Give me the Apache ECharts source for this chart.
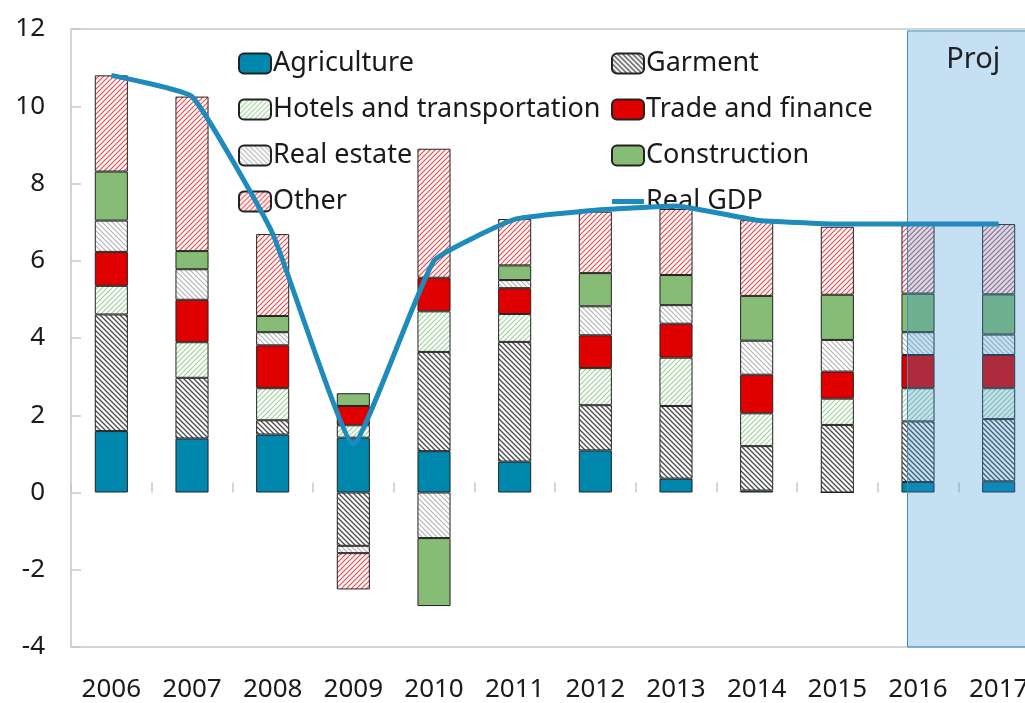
<!DOCTYPE html>
<html>
<head>
<meta charset="utf-8">
<style>
  html, body { margin: 0; padding: 0; background: #fff; }
  #chart { width: 1025px; height: 703px; }
</style>
<script src="https://cdn.jsdelivr.net/npm/echarts@6/dist/echarts.min.js"></script>
</head>
<body>
<div id="chart"></div>
<script>
// 数据
var years = ['2006', '2007', '2008', '2009', '2010', '2011', '2012', '2013', '2014', '2015', '2016', '2017'];
var agriculture  = [1.59, 1.40, 1.50, 1.42, 1.07, 0.80, 1.09, 0.36, 0.05, 0.00, 0.27, 0.29];
var garment      = [3.02, 1.57, 0.37, -1.38, 2.57, 3.10, 1.17, 1.88, 1.15, 1.75, 1.57, 1.61];
var hotels       = [0.74, 0.92, 0.83, 0.32, 1.05, 0.72, 0.96, 1.25, 0.85, 0.68, 0.86, 0.80];
var trade        = [0.88, 1.10, 1.11, 0.50, 0.87, 0.67, 0.85, 0.88, 1.00, 0.70, 0.86, 0.86];
var realEstate   = [0.81, 0.79, 0.34, -0.19, -1.18, 0.21, 0.75, 0.48, 0.88, 0.82, 0.59, 0.53];
var construction = [1.27, 0.47, 0.42, 0.33, -1.76, 0.38, 0.86, 0.78, 1.16, 1.17, 1.00, 1.04];
var other        = [2.49, 4.00, 2.12, -0.94, 3.34, 1.20, 1.59, 1.71, 1.96, 1.76, 1.78, 1.82];
var realGdp      = [10.8, 10.25, 6.7, 1.25, 6.0, 7.07, 7.31, 7.42, 7.05, 6.95, 6.95, 6.95];
var projFrom = 9.87; // 预测区开始位置(类目下标)

(function() {
    var myChart = echarts.init(document.getElementById('chart'));
    var font = '"Noto Sans", "Open Sans", sans-serif';

    // 斜线填充
    function hatch(stroke, dir, lw) {
        var s = 5;
        var c = document.createElement('canvas');
        c.width = s; c.height = s;
        var ctx = c.getContext('2d');
        ctx.fillStyle = '#fff';
        ctx.fillRect(0, 0, s, s);
        ctx.strokeStyle = stroke;
        ctx.lineWidth = lw;
        ctx.beginPath();
        if (dir === '/') {
            ctx.moveTo(0, s); ctx.lineTo(s, 0);
            ctx.moveTo(-1, 1); ctx.lineTo(1, -1);
            ctx.moveTo(s - 1, s + 1); ctx.lineTo(s + 1, s - 1);
        } else {
            ctx.moveTo(0, 0); ctx.lineTo(s, s);
            ctx.moveTo(-1, s - 1); ctx.lineTo(1, s + 1);
            ctx.moveTo(s - 1, -1); ctx.lineTo(s + 1, 1);
        }
        ctx.stroke();
        return { image: c, repeat: 'repeat' };
    }

    function bar(name, data, fill) {
        return {
            name: name,
            type: 'bar',
            stack: 'total',
            barWidth: '41%',
            data: data,
            z: 2,
            itemStyle: { color: fill, borderColor: '#222', borderWidth: 1 }
        };
    }

    var legendText = { fontSize: 27, color: '#1a1a1a', fontFamily: font, padding: [0, 0, 0, -3] };

    var option = {
        animation: false,
        textStyle: { fontFamily: font },
        grid: {
            left: 71, top: 29, width: 968, height: 618,
            outerBoundsMode: 'none',
            containLabel: false,
            show: true, borderColor: '#d4d4d4', borderWidth: 2
        },
        legend: [{
            orient: 'vertical',
            left: 238, top: 50,
            itemWidth: 32, itemHeight: 20, itemGap: 19,
            padding: 0,
            textStyle: legendText,
            data: ['Agriculture', 'Hotels and transportation', 'Real estate', 'Other']
        }, {
            orient: 'vertical',
            left: 611, top: 50,
            itemWidth: 32, itemHeight: 20, itemGap: 19,
            padding: 0,
            textStyle: legendText,
            data: ['Garment', 'Trade and finance', 'Construction',
                { name: 'Real GDP', icon: 'path://M0,0 L32,0 L32,5 L0,5 Z' }]
        }],
        xAxis: [{
            type: 'category',
            data: years,
            position: 'bottom',
            axisLine: { show: false, onZero: false },
            axisTick: { show: false },
            axisLabel: { fontSize: 26, color: '#1a1a1a', margin: 30, fontFamily: font }
        }, {
            // 零轴刻度
            type: 'category',
            data: years,
            position: 'top',
            axisLine: { show: false, onZero: true },
            axisTick: { show: true, inside: false, length: 10, lineStyle: { color: '#c8c8c8', width: 1.5 } },
            axisLabel: { show: false }
        }, {
            type: 'value',
            min: -0.5, max: 11.5,
            show: false
        }],
        yAxis: {
            type: 'value',
            min: -4, max: 12, interval: 2,
            axisLine: { show: false, onZero: false },
            axisTick: { show: true, inside: true, length: 10, lineStyle: { color: '#c8c8c8', width: 1.5 } },
            splitLine: { show: false },
            axisLabel: { fontSize: 26, color: '#1a1a1a', margin: 26, fontFamily: font }
        },
        series: [
            bar('Agriculture', agriculture, '#0087ae'),
            bar('Garment', garment, hatch('#4a4a4a', '\\', 1.3)),
            bar('Hotels and transportation', hotels, hatch('#9fd39a', '/', 1.2)),
            bar('Trade and finance', trade, '#e00000'),
            bar('Real estate', realEstate, hatch('#b5b5b5', '\\', 1.2)),
            bar('Construction', construction, '#86bc76'),
            bar('Other', other, hatch('#f04848', '/', 1.2)),
            {
                // 预测区阴影(盖在柱子上)
                name: 'proj',
                type: 'line',
                xAxisIndex: 2,
                data: [],
                z: 3,
                markArea: {
                    silent: true,
                    z: 3,
                    itemStyle: { color: 'rgba(52,147,210,0.29)', borderColor: '#3f8cb8', borderWidth: 1 },
                    label: { show: true, position: 'insideTop', distance: 15, fontSize: 29, color: '#222', fontFamily: font },
                    data: [[{ name: 'Proj', xAxis: projFrom, yAxis: -4 }, { xAxis: 11.5, yAxis: 11.95 }]]
                }
            },
            {
                name: 'Real GDP',
                type: 'line',
                data: realGdp,
                symbol: 'none',
                smooth: 0.12,
                z: 5,
                lineStyle: { color: '#1f8bbd', width: 5 },
                itemStyle: { color: '#1f8bbd' }
            }
        ]
    };

    myChart.setOption(option);

    window.addEventListener('resize', function() {
        myChart.resize();
    });
})();
</script>
</body>
</html>
